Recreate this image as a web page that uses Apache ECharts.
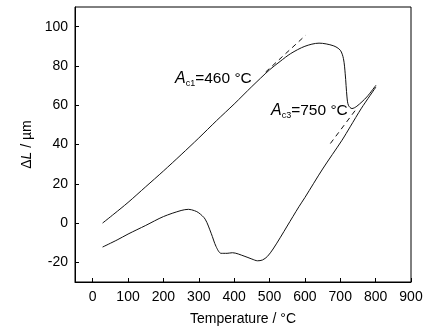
<!DOCTYPE html>
<html><head><meta charset="utf-8">
<script src="https://cdn.jsdelivr.net/npm/echarts@6/dist/echarts.min.js"></script>
<style>html,body{margin:0;padding:0;background:#fff}#c{width:432px;height:334px}</style>
</head><body><div id="c"></div>
<script>
// Heating curve
var heatT = [28, 60, 100, 150, 200, 250, 300, 350, 400, 450, 500, 530, 560, 600, 640, 680, 700, 709, 714, 719, 723, 733, 747, 775, 801];
var heatL = [0, 4.6, 10.5, 18.5, 26.5, 34.8, 43.3, 52.1, 60.6, 69.5, 78, 82.3, 86.3, 90, 91.6, 90.3, 88, 83.7, 76, 64.2, 60, 58.3, 59.5, 64.2, 70.2];
// Cooling curve
var coolT = [28, 69, 100, 150, 200, 250, 271, 288, 300, 318, 335, 349, 363, 380, 395, 428, 450, 466, 480, 494, 510, 531, 550, 583, 600, 650, 705, 728, 760, 801];
var coolL = [-12.2, -8.6, -5.6, -1.2, 3.3, 6.4, 7, 6.3, 5.2, 2, -5.2, -12, -15.4, -15.4, -15.1, -16.8, -18.3, -19.2, -18.8, -17, -13.2, -7.2, -1.5, 8.3, 13, 27.5, 42.2, 49, 58.5, 69.3];
// Tangent (dashed) lines
var dash1T = [489, 602], dash1L = [76.9, 95.6];
var dash2T = [672, 743], dash2L = [40.5, 57.5];
// Ticks
var xTicks = [0, 100, 200, 300, 400, 500, 600, 700, 800, 900];
var yTicks = [-20, 0, 20, 40, 60, 80, 100];

function zip(a, b) { return a.map(function (v, i) { return [v, b[i]]; }); }
var FONT = 'Liberation Sans, Arial, sans-serif';
var annRich = {
  i: {fontFamily: FONT, fontSize: 16, fontStyle: 'italic', fill: '#000'},
  s: {fontFamily: FONT, fontSize: 9, fill: '#000', verticalAlign: 'bottom', padding: [9, 0, 0, 0]},
  n: {fontFamily: FONT, fontSize: 15.5, fill: '#000'}
};
var chart = echarts.init(document.getElementById('c'), null, {renderer: 'canvas'});
chart.setOption({
  animation: false,
  backgroundColor: '#fff',
  grid: {left: 75, right: 21, top: 7, bottom: 52, show: true, borderColor: '#000', borderWidth: 1, backgroundColor: 'transparent'},
  xAxis: {
    type: 'value', min: -50, max: 900,
    name: 'Temperature / °C', nameLocation: 'middle', nameGap: 30,
    nameTextStyle: {fontFamily: FONT, fontSize: 14, color: '#000'},
    axisLine: {onZero: false, lineStyle: {color: '#000', width: 1}},
    axisTick: {inside: true, length: 4, customValues: xTicks, lineStyle: {color: '#000'}},
    axisLabel: {customValues: xTicks, margin: 8, fontFamily: FONT, fontSize: 14, color: '#000'},
    splitLine: {show: false}
  },
  yAxis: {
    type: 'value', min: -30, max: 110,
    name: '{a|Δ}{i|L}{a| / µm}', nameLocation: 'middle', nameGap: 40, nameRotate: 90,
    nameTextStyle: {fontFamily: FONT, fontSize: 14, color: '#000',
      rich: {a: {fontFamily: FONT, fontSize: 14, color: '#000'}, i: {fontFamily: FONT, fontSize: 14, fontStyle: 'italic', color: '#000'}}},
    axisLine: {show: true, onZero: false, lineStyle: {color: '#000', width: 1}},
    axisTick: {show: true, inside: true, length: 4, customValues: yTicks, lineStyle: {color: '#000'}},
    axisLabel: {customValues: yTicks, margin: 7, fontFamily: FONT, fontSize: 14, color: '#000'},
    splitLine: {show: false}
  },
  series: [
    {type: 'line', data: zip(heatT, heatL), smooth: 0.3, showSymbol: false, lineStyle: {color: '#111', width: 1}},
    {type: 'line', data: zip(coolT, coolL), smooth: 0.3, showSymbol: false, lineStyle: {color: '#111', width: 1}},
    {type: 'line', data: zip(dash1T, dash1L), showSymbol: false, lineStyle: {color: '#111', width: 1, type: [5, 4]}},
    {type: 'line', data: zip(dash2T, dash2L), showSymbol: false, lineStyle: {color: '#111', width: 1, type: [5, 4]}}
  ],
  graphic: [
    {type: 'text', left: 175, top: 71, style: {text: '{i|A}{s|c1}{n|=460 °C}', rich: annRich}},
    {type: 'text', left: 271, top: 103, style: {text: '{i|A}{s|c3}{n|=750 °C}', rich: annRich}}
  ]
});
</script></body></html>
